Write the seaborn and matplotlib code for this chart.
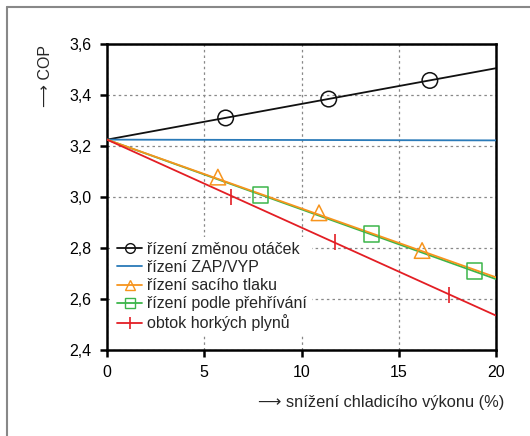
import matplotlib
matplotlib.use("Agg")
import matplotlib.pyplot as plt
import seaborn as sns
import pandas as pd
from matplotlib.lines import Line2D
from matplotlib.ticker import FuncFormatter

# ---- data ----
series_names = ["řízení změnou otáček", "řízení ZAP/VYP", "řízení sacího tlaku",
                "řízení podle přehřívání", "obtok horkých plynů"]
line_x = [0, 20]
line_otacky = [3.225, 3.505]
line_zapvyp = [3.225, 3.222]
line_saci = [3.225, 2.685]
line_prehrivani = [3.225, 2.678]
line_obtok = [3.225, 2.535]

mark_otacky_x = [6.1, 11.4, 16.6]
mark_otacky_y = [3.310, 3.384, 3.457]
mark_saci_x = [5.7, 10.9, 16.2]
mark_saci_y = [3.078, 2.938, 2.790]
mark_prehrivani_x = [7.9, 13.6, 18.9]
mark_prehrivani_y = [3.008, 2.855, 2.710]
mark_obtok_x = [6.4, 11.7, 17.6]
mark_obtok_y = [3.000, 2.825, 2.615]

x_ticks = [0, 5, 10, 15, 20]
y_ticks = [2.4, 2.6, 2.8, 3.0, 3.2, 3.4, 3.6]

colors = ["#111111", "#2a7ab8", "#f7941d", "#3cb54a", "#e31e24"]
markers = ["o", None, "^", "s", "|"]

sns.set_style("white")
plt.rcParams["font.family"] = ["Liberation Sans", "DejaVu Sans"]

fig = plt.figure(figsize=(5.30, 4.36), dpi=100)
ax = fig.add_axes([107/530, 1 - 350/436, (496 - 107)/530, (350 - 44)/436])

lines_y = [line_otacky, line_zapvyp, line_prehrivani, line_saci, line_obtok]
order = [0, 1, 3, 2, 4]
marks = [(mark_otacky_x, mark_otacky_y), None, (mark_saci_x, mark_saci_y),
         (mark_prehrivani_x, mark_prehrivani_y), (mark_obtok_x, mark_obtok_y)]
all_lines = [line_otacky, line_zapvyp, line_saci, line_prehrivani, line_obtok]

for i in order:
    name, ly, mk, c, m = series_names[i], all_lines[i], marks[i], colors[i], markers[i]
    df = pd.DataFrame({"x": line_x, "y": ly})
    sns.lineplot(data=df, x="x", y="y", color=c, lw=1.3, ax=ax, zorder=3)
    if mk is not None:
        dm = pd.DataFrame({"x": mk[0], "y": mk[1]})
        if m == "|":
            ax.plot(dm["x"], dm["y"], linestyle="none", marker="|", color=c,
                    markersize=11, markeredgewidth=1.2, zorder=4)
        else:
            sns.scatterplot(data=dm, x="x", y="y", marker=m, s=125,
                            facecolor="none", edgecolor=c, linewidth=1.1,
                            ax=ax, zorder=4)

ax.set_xlim(0, 20)
ax.set_ylim(2.4, 3.6)
ax.set_xticks(x_ticks)
ax.set_yticks(y_ticks)
ax.yaxis.set_major_formatter(FuncFormatter(lambda v, p: f"{v:.1f}".replace(".", ",")))
ax.xaxis.set_major_formatter(FuncFormatter(lambda v, p: f"{v:g}"))
ax.grid(True, color="#888888", linestyle=(0, (2, 2.5)), linewidth=0.9)
ax.set_axisbelow(True)
for s in ax.spines.values():
    s.set_visible(True)
    s.set_color("black")
    s.set_linewidth(1.8)
ax.tick_params(direction="out", length=5, width=1.8, labelsize=11.5, pad=6,
               colors="black", left=True, bottom=True)
ax.set_xlabel("")
ax.set_ylabel("")

handles = []
for name, c, m in zip(series_names, colors, markers):
    if m is None:
        h = Line2D([], [], color=c, lw=1.3)
    elif m == "|":
        h = Line2D([], [], color=c, lw=1.3, marker="|", markersize=8, markeredgewidth=1.2)
    else:
        h = Line2D([], [], color=c, lw=1.3, marker=m, markersize=7,
                   markerfacecolor="none", markeredgecolor=c, markeredgewidth=1.0)
    handles.append(h)
leg = ax.legend(handles, series_names, loc="lower left",
                bbox_to_anchor=(0.013, 0.045), borderaxespad=0, frameon=True,
                fontsize=11.5, handlelength=1.6, handletextpad=0.3,
                labelspacing=0.2, borderpad=0.3, fancybox=False)
leg.get_frame().set_edgecolor("none")
leg.get_frame().set_facecolor("white")
leg.get_frame().set_alpha(1)
leg.set_zorder(5)

fig.text(46/530, 1 - 76/436, "⟶ COP", rotation=90, ha="center", va="center",
         fontsize=11.5)
fig.text(504/530, 1 - 402/436, "⟶ snížení chladicího výkonu (%)", ha="right",
         va="center", fontsize=11.8)

# outer frame (top and left gray lines)
fig.add_artist(Line2D([7/530, 1.0], [1 - 7/436, 1 - 7/436], color="#888888", lw=1.5,
                      transform=fig.transFigure))
fig.add_artist(Line2D([7/530, 7/530], [0, 1 - 7/436], color="#888888", lw=1.5,
                      transform=fig.transFigure))

fig.savefig("out.png", dpi=100)
